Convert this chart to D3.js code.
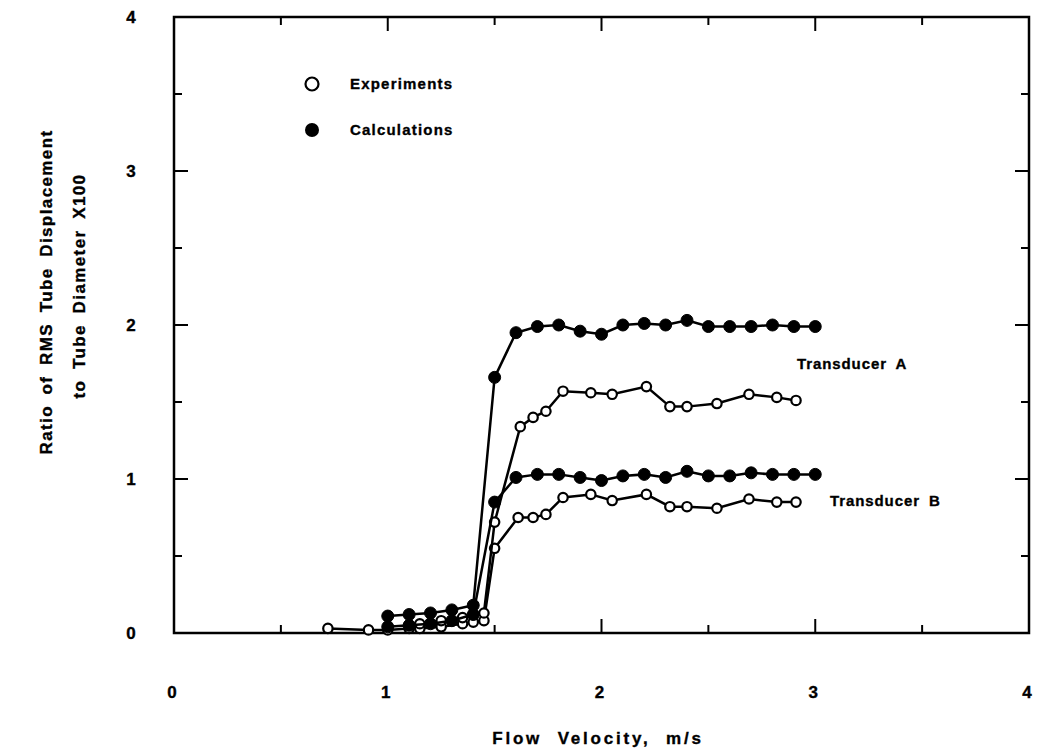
<!DOCTYPE html>
<html>
<head>
<meta charset="utf-8">
<script src="https://cdn.jsdelivr.net/npm/d3@7"></script>
<style>
  body { margin: 0; background: #fff; }
  text { font-family: "Liberation Sans", Arial, sans-serif; font-weight: bold; fill: #000; stroke: #000; stroke-width: 0.35px; }
</style>
</head>
<body>
<svg id="chart" width="1038" height="748"></svg>
<script>
// data: [velocity m/s, ratio x100]
const calcA = [[1.0,0.11],[1.1,0.12],[1.2,0.13],[1.3,0.15],[1.4,0.18],[1.5,1.66],[1.6,1.95],[1.7,1.99],[1.8,2.0],[1.9,1.96],[2.0,1.94],[2.1,2.0],[2.2,2.01],[2.3,2.0],[2.4,2.03],[2.5,1.99],[2.6,1.99],[2.7,1.99],[2.8,2.0],[2.9,1.99],[3.0,1.99]];
const calcB = [[1.0,0.04],[1.1,0.05],[1.2,0.06],[1.3,0.08],[1.4,0.12],[1.5,0.85],[1.6,1.01],[1.7,1.03],[1.8,1.03],[1.9,1.01],[2.0,0.99],[2.1,1.02],[2.2,1.03],[2.3,1.01],[2.4,1.05],[2.5,1.02],[2.6,1.02],[2.7,1.04],[2.8,1.03],[2.9,1.03],[3.0,1.03]];
const expA = [[1.1,0.05],[1.15,0.06],[1.25,0.08],[1.35,0.1],[1.4,0.12],[1.45,0.13],[1.5,0.72],[1.62,1.34],[1.68,1.40],[1.74,1.44],[1.82,1.57],[1.95,1.56],[2.05,1.55],[2.21,1.60],[2.32,1.47],[2.40,1.47],[2.54,1.49],[2.69,1.55],[2.82,1.53],[2.91,1.51]];
const expB = [[0.72,0.03],[0.91,0.02],[1.0,0.02],[1.1,0.03],[1.15,0.03],[1.25,0.04],[1.35,0.06],[1.4,0.07],[1.45,0.08],[1.5,0.55],[1.61,0.75],[1.68,0.75],[1.74,0.77],[1.82,0.88],[1.95,0.90],[2.05,0.86],[2.21,0.90],[2.32,0.82],[2.40,0.82],[2.54,0.81],[2.69,0.87],[2.82,0.85],[2.91,0.85]];
const xTicks = [0, 1, 2, 3, 4];
const yTicks = [0, 1, 2, 3, 4];
const minorTicks = [0.5, 1.5, 2.5, 3.5];

const svg = d3.select("#chart");
const pL = 174, pR = 1029, pT = 17, pB = 633;
const x = d3.scaleLinear().domain([0, 4]).range([pL, pR]);
const y = d3.scaleLinear().domain([0, 4]).range([pB, pT]);

// frame
svg.append("rect")
  .attr("x", pL).attr("y", pT)
  .attr("width", pR - pL).attr("height", pB - pT)
  .attr("fill", "none").attr("stroke", "#000").attr("stroke-width", 2.5);

// inward ticks on all four sides
const ticks = svg.append("g").attr("stroke", "#000").attr("stroke-width", 2);
xTicks.concat(minorTicks).forEach((t) => {
  const len = xTicks.includes(t) ? 14 : 8;
  ticks.append("line").attr("x1", x(t)).attr("x2", x(t)).attr("y1", pB).attr("y2", pB - len);
  ticks.append("line").attr("x1", x(t)).attr("x2", x(t)).attr("y1", pT).attr("y2", pT + len);
  ticks.append("line").attr("y1", y(t)).attr("y2", y(t)).attr("x1", pL).attr("x2", pL + len);
  ticks.append("line").attr("y1", y(t)).attr("y2", y(t)).attr("x1", pR).attr("x2", pR - len);
});

// tick labels
svg.selectAll(".xl").data(xTicks).enter().append("text")
  .attr("x", (d) => x(d) - 2).attr("y", 698)
  .attr("text-anchor", "middle").style("font-size", "17px")
  .text((d) => d);
svg.selectAll(".yl").data(yTicks).enter().append("text")
  .attr("x", 131).attr("y", (d) => y(d) + 6)
  .attr("text-anchor", "middle").style("font-size", "17px")
  .text((d) => d);

// axis titles
svg.append("text")
  .attr("x", 598).attr("y", 744)
  .attr("text-anchor", "middle").style("font-size", "17px")
  .style("letter-spacing", "2.8px").style("word-spacing", "8px")
  .text("Flow Velocity,  m/s");
svg.append("text")
  .attr("transform", "translate(52,292) rotate(-90)")
  .attr("text-anchor", "middle").style("font-size", "17px")
  .style("letter-spacing", "1.4px").style("word-spacing", "4.5px")
  .text("Ratio of RMS Tube Displacement");
svg.append("text")
  .attr("transform", "translate(85,286) rotate(-90)")
  .attr("text-anchor", "middle").style("font-size", "17px")
  .style("letter-spacing", "1.4px").style("word-spacing", "4.5px")
  .text("to Tube Diameter X100");

// series
const line = d3.line().x((d) => x(d[0])).y((d) => y(d[1]));
const drawSeries = (data, filled) => {
  const g = svg.append("g");
  g.append("path").datum(data)
    .attr("d", line).attr("fill", "none")
    .attr("stroke", "#000").attr("stroke-width", 2.5);
  g.selectAll("circle").data(data).enter().append("circle")
    .attr("cx", (d) => x(d[0])).attr("cy", (d) => y(d[1]))
    .attr("r", filled ? 6 : 4.7)
    .attr("fill", filled ? "#000" : "#fff")
    .attr("stroke", "#000").attr("stroke-width", filled ? 1 : 2.2);
};
drawSeries(expB, false);
drawSeries(expA, false);
drawSeries(calcB, true);
drawSeries(calcA, true);

// legend
svg.append("circle").attr("cx", 312).attr("cy", 84).attr("r", 6.5)
  .attr("fill", "#fff").attr("stroke", "#000").attr("stroke-width", 2.2);
svg.append("circle").attr("cx", 312).attr("cy", 130).attr("r", 7).attr("fill", "#000");
svg.append("text").attr("x", 350).attr("y", 89).style("font-size", "15px")
  .style("letter-spacing", "1.2px").text("Experiments");
svg.append("text").attr("x", 350).attr("y", 135).style("font-size", "15px")
  .style("letter-spacing", "1.2px").text("Calculations");

// annotations
svg.append("text").attr("x", 797).attr("y", 369).style("font-size", "15px")
  .style("letter-spacing", "0.9px").style("word-spacing", "4px").text("Transducer A");
svg.append("text").attr("x", 830).attr("y", 506).style("font-size", "15px")
  .style("letter-spacing", "0.9px").style("word-spacing", "4px").text("Transducer B");
</script>
</body>
</html>
